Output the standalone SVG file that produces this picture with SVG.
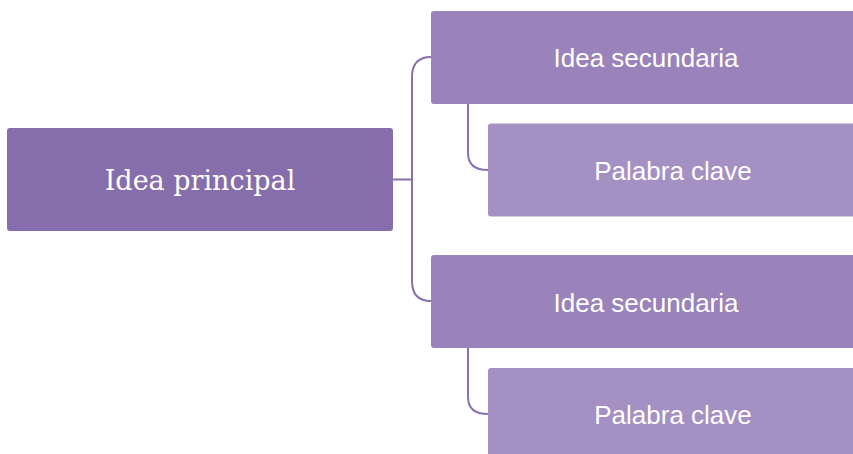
<svg xmlns="http://www.w3.org/2000/svg" width="853" height="454" viewBox="0 0 853 454">
<style>
.main{fill:#866DAB}
.sec{fill:#9983BA}
.kw{fill:#A490C2}
.t{fill:#FFFFFF;font-family:"Liberation Sans",Arial,sans-serif;font-size:26px;text-anchor:middle}
.ts{fill:#FFFFFF;font-family:"DejaVu Serif","Liberation Serif",serif;font-size:27px;text-anchor:middle}
.c{fill:none;stroke:#8A70AF;stroke-width:2}
</style>
<rect width="853" height="454" fill="#FFFFFF"/>
<g id="connectors">
<path class="c" d="M393,179.5 H412"/>
<path class="c" d="M431,57 Q412,57 412,77 V281 Q412,301 431,301"/>
<path class="c" d="M468,104 V153 Q468,170 488,170"/>
<path class="c" d="M468,348 V397 Q468,414 488,414"/>
</g>
<g id="main">
<rect class="main" x="7" y="128" width="386" height="103" rx="3"/>
<text class="ts" x="200" y="190">Idea principal</text>
</g>
<g id="sec1">
<rect class="sec" x="431" y="11" width="430" height="93" rx="3"/>
<text class="t" x="646" y="66.5">Idea secundaria</text>
</g>
<g id="kw1">
<rect class="kw" x="488" y="123.5" width="370" height="93" rx="3"/>
<text class="t" x="673" y="180">Palabra clave</text>
</g>
<g id="sec2">
<rect class="sec" x="431" y="255" width="430" height="93" rx="3"/>
<text class="t" x="646" y="311.5">Idea secundaria</text>
</g>
<g id="kw2">
<rect class="kw" x="488" y="368" width="370" height="93" rx="3"/>
<text class="t" x="673" y="424">Palabra clave</text>
</g>
</svg>
